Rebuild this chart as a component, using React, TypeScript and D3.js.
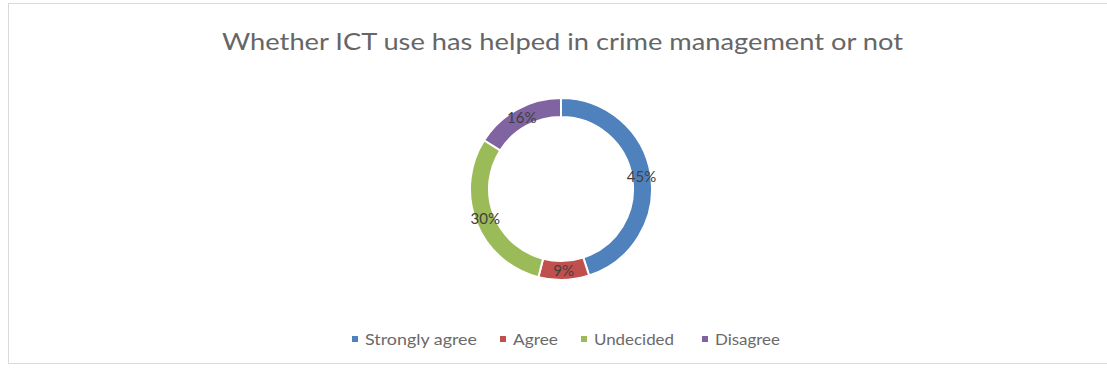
import React from "react";
import * as d3 from "d3";

const categories = ["Strongly agree", "Agree", "Undecided", "Disagree"];
const values = [45, 9, 30, 16];
const colors = ["#4F81BD", "#C0504D", "#9BBB59", "#8064A2"];
const title = "Whether ICT use has helped in crime management or not";

export default function App() {
  const W = 1107, H = 369;
  const cx = 561, cy = 189, rOuter = 91, rInner = 72;
  const pie = d3.pie<number>().sort(null).value((d) => d)(values);
  const arc = d3.arc<d3.PieArcDatum<number>>().innerRadius(rInner).outerRadius(rOuter);
  const total = d3.sum(values);
  const font = "Lato, 'Open Sans', sans-serif";

  const legendX = [355, 503, 584, 705];
  const legendW = [112, 45, 80, 65];
  const legendY = 339;

  return (
    <svg width={W} height={H} style={{ position: "absolute", left: 0, top: 0, display: "block" }} fontFamily={font}>
      <rect x={0} y={0} width={W} height={H} fill="#fff" />
      <rect x={8.5} y={3.5} width={1110} height={360} fill="#fff" stroke="#d9d9d9" />
      <text x={222} y={50} fontSize={24} fill="#666666" textLength={681} lengthAdjust="spacingAndGlyphs">{title}</text>
      <g transform={`translate(${cx},${cy})`}>
        {pie.map((p, i) => (
          <path key={i} d={arc(p) || ""} fill={colors[i]} stroke="#fff" strokeWidth={2} />
        ))}
        {pie.map((p, i) => {
          const [x, y] = arc.centroid(p);
          return (
            <text key={"l" + i} x={x} y={y} dy="0.35em" textAnchor="middle" fontSize={15} fill="#404040">
              {Math.round((p.value / total) * 100)}%
            </text>
          );
        })}
      </g>
      {categories.map((c, i) => (
        <g key={c}>
          <rect x={legendX[i] - 3} y={legendY - 3} width={6} height={6} fill={colors[i]} />
          <text x={legendX[i] + 10} y={legendY} dy="0.35em" fontSize={16} fill="#6a6a6a" textLength={legendW[i]} lengthAdjust="spacingAndGlyphs">{c}</text>
        </g>
      ))}
    </svg>
  );
}
